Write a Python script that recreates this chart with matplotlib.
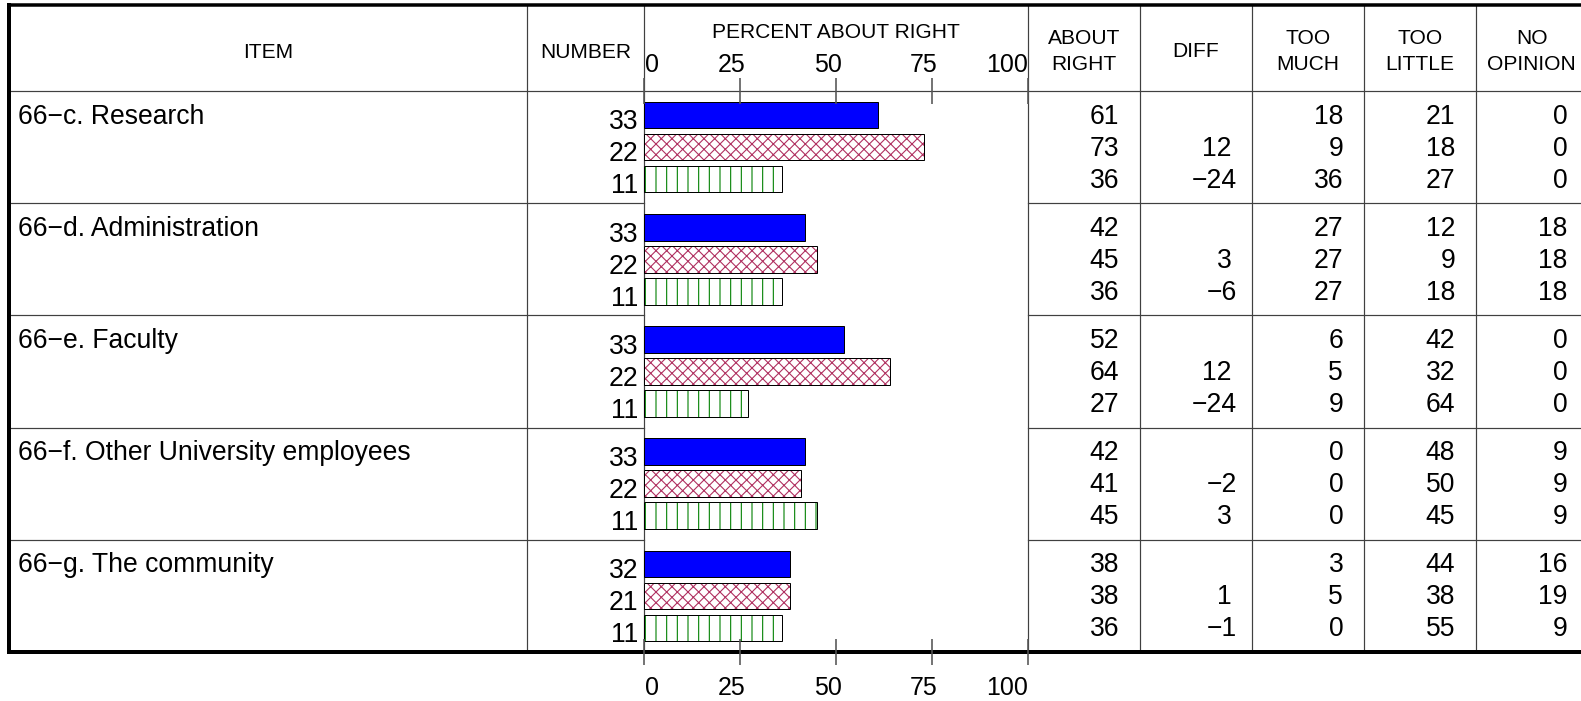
import matplotlib

matplotlib.use("Agg")
import matplotlib.pyplot as plt
import matplotlib.transforms as mtransforms
import numpy as np

items = [
    "66\u2212c. Research",
    "66\u2212d. Administration",
    "66\u2212e. Faculty",
    "66\u2212f. Other University employees",
    "66\u2212g. The community",
]
numbers = [[33, 22, 11], [33, 22, 11], [33, 22, 11], [33, 22, 11], [32, 21, 11]]
about_right = [[61, 73, 36], [42, 45, 36], [52, 64, 27], [42, 41, 45], [38, 38, 36]]
diff = [[None, 12, -24], [None, 3, -6], [None, 12, -24], [None, -2, 3], [None, 1, -1]]
too_much = [[18, 9, 36], [27, 27, 27], [6, 5, 9], [0, 0, 0], [3, 5, 0]]
too_little = [[21, 18, 27], [12, 9, 18], [42, 32, 64], [48, 50, 45], [44, 38, 55]]
no_opinion = [[0, 0, 0], [18, 18, 18], [0, 0, 0], [9, 9, 9], [16, 19, 9]]
ticks = [0, 25, 50, 75, 100]
axis_title = "PERCENT ABOUT RIGHT"
right_headers = [["ABOUT", "RIGHT"], ["DIFF"], ["TOO", "MUCH"], ["TOO", "LITTLE"], ["NO", "OPINION"]]

# ---- layout (pixels) ----
W, H, DPI = 1581, 701, 64
PT = 72 / DPI


def pt(px):
    return px * PT


TOP_Y, HEAD_Y, BOT_Y = 5, 91, 652
LEFT_X, ITEM_X, ZERO_X, FULL_X = 9, 527, 644, 1027.7
COL_W = 112
GROUP_UNITS = 3.5
BAR_H = 0.83
LINE_C = "#404040"
BODY = pt(26.5)
HEAD = pt(21)
TICKF = pt(25)

n_groups = len(items)
unit_px = (BOT_Y - HEAD_Y) / (n_groups * GROUP_UNITS)


def bar_pos(g, k):
    return g * GROUP_UNITS + 0.75 + k


def row_px(g, k):
    return HEAD_Y + bar_pos(g, k) * unit_px


plt.rcParams["font.family"] = ["Liberation Sans", "DejaVu Sans"]
plt.rcParams["hatch.linewidth"] = pt(1.1)

fig = plt.figure(figsize=(W / DPI, H / DPI), dpi=DPI, facecolor="white")

# overlay in pixel coordinates for the table grid and text
ov = fig.add_axes([0, 0, 1, 1], zorder=0)
ov.set_xlim(0, W)
ov.set_ylim(H, 0)
ov.axis("off")

ax = fig.add_axes(
    [ZERO_X / W, 1 - BOT_Y / H, (FULL_X - ZERO_X) / W, (BOT_Y - HEAD_Y) / H],
    zorder=1,
)
ax.patch.set_visible(False)

# ---- bars ----
ar = np.array(about_right)
hatches = [None, "xx", "|"]
hatch_colors = [None, "#B03060", "#008000"]
for k in range(3):
    ys = [bar_pos(g, k) for g in range(n_groups)]
    if k == 0:
        ax.barh(ys, ar[:, k], height=BAR_H, color="#0000FF", edgecolor="black", linewidth=pt(1))
    else:
        ax.barh(ys, ar[:, k], height=BAR_H, color="white", edgecolor=hatch_colors[k],
                linewidth=0, hatch=hatches[k])
        ax.barh(ys, ar[:, k], height=BAR_H, fill=False, edgecolor="black", linewidth=pt(1))

ax.set_xlim(ticks[0], ticks[-1])
ax.set_ylim(n_groups * GROUP_UNITS, 0)
ax.set_xticks(ticks)
ax.set_yticks([])
ax.tick_params(axis="x", top=True, bottom=True, direction="inout", length=pt(26),
               width=pt(1.6), color="#555555", labelbottom=False, labeltop=False)
for s in ax.spines.values():
    s.set_visible(False)

# tick labels, top and bottom
for v in ticks:
    if v == ticks[0]:
        ha, dx = "left", 1
    elif v == ticks[-1]:
        ha, dx = "right", 0
    else:
        ha, dx = "center", -8
    for yax, dy in ((1, 26), (0, -36)):
        off = mtransforms.ScaledTranslation(dx / DPI, dy / DPI, fig.dpi_scale_trans)
        ax.text(v, yax, str(v), transform=ax.get_xaxis_transform() + off,
                ha=ha, va="center", fontsize=TICKF, clip_on=False)

ov.text((ZERO_X + FULL_X) / 2, 33, axis_title, ha="center", va="center", fontsize=HEAD)

# ---- table grid ----
col_edges = [FULL_X + COL_W * i for i in range(len(right_headers) + 1)]
for x in [ITEM_X, ZERO_X] + col_edges[:-1]:
    ov.plot([x, x], [TOP_Y, BOT_Y], color=LINE_C, lw=pt(1.2))
ov.plot([LEFT_X, W], [HEAD_Y, HEAD_Y], color=LINE_C, lw=pt(1.2))
for g in range(1, n_groups):
    y = HEAD_Y + g * GROUP_UNITS * unit_px
    ov.plot([LEFT_X, ZERO_X], [y, y], color=LINE_C, lw=pt(1.2))
    ov.plot([FULL_X, W], [y, y], color=LINE_C, lw=pt(1.2))

# outer frame
ov.plot([LEFT_X, W + 10], [TOP_Y, TOP_Y], color="black", lw=pt(3.5), solid_capstyle="projecting")
ov.plot([LEFT_X, W + 10], [BOT_Y, BOT_Y], color="black", lw=pt(4), solid_capstyle="projecting")
ov.plot([LEFT_X, LEFT_X], [TOP_Y, BOT_Y], color="black", lw=pt(4), solid_capstyle="projecting")

# ---- headers ----
ov.text((LEFT_X + ITEM_X) / 2, 52.5, "ITEM", ha="center", va="center", fontsize=HEAD)
ov.text((ITEM_X + ZERO_X) / 2, 52.5, "NUMBER", ha="center", va="center", fontsize=HEAD)
for i, lines in enumerate(right_headers):
    cx = (col_edges[i] + col_edges[i + 1]) / 2
    ys = [51.5] if len(lines) == 1 else [38.3, 64.2]
    for line, y in zip(lines, ys):
        ov.text(cx, y, line, ha="center", va="center", fontsize=HEAD)

# ---- body ----
columns = [about_right, diff, too_much, too_little, no_opinion]
for g in range(n_groups):
    ov.text(18, row_px(g, 0) + 8.5, items[g], ha="left", va="baseline", fontsize=BODY)
    for k in range(3):
        ov.text(ZERO_X - 5.7, row_px(g, k) + BAR_H / 2 * unit_px + 1, str(numbers[g][k]),
                ha="right", va="baseline", fontsize=BODY)
        for i, col in enumerate(columns):
            v = col[g][k]
            if v is None:
                continue
            xr = col_edges[i + 1] - 20.5 + (6 if v < 0 else 0)
            txt = str(v).replace("-", "\u2212")
            ov.text(xr, row_px(g, k) + 8.5, txt, ha="right", va="baseline", fontsize=BODY)

fig.savefig("out.png", dpi=DPI, facecolor="white")
plt.close(fig)
